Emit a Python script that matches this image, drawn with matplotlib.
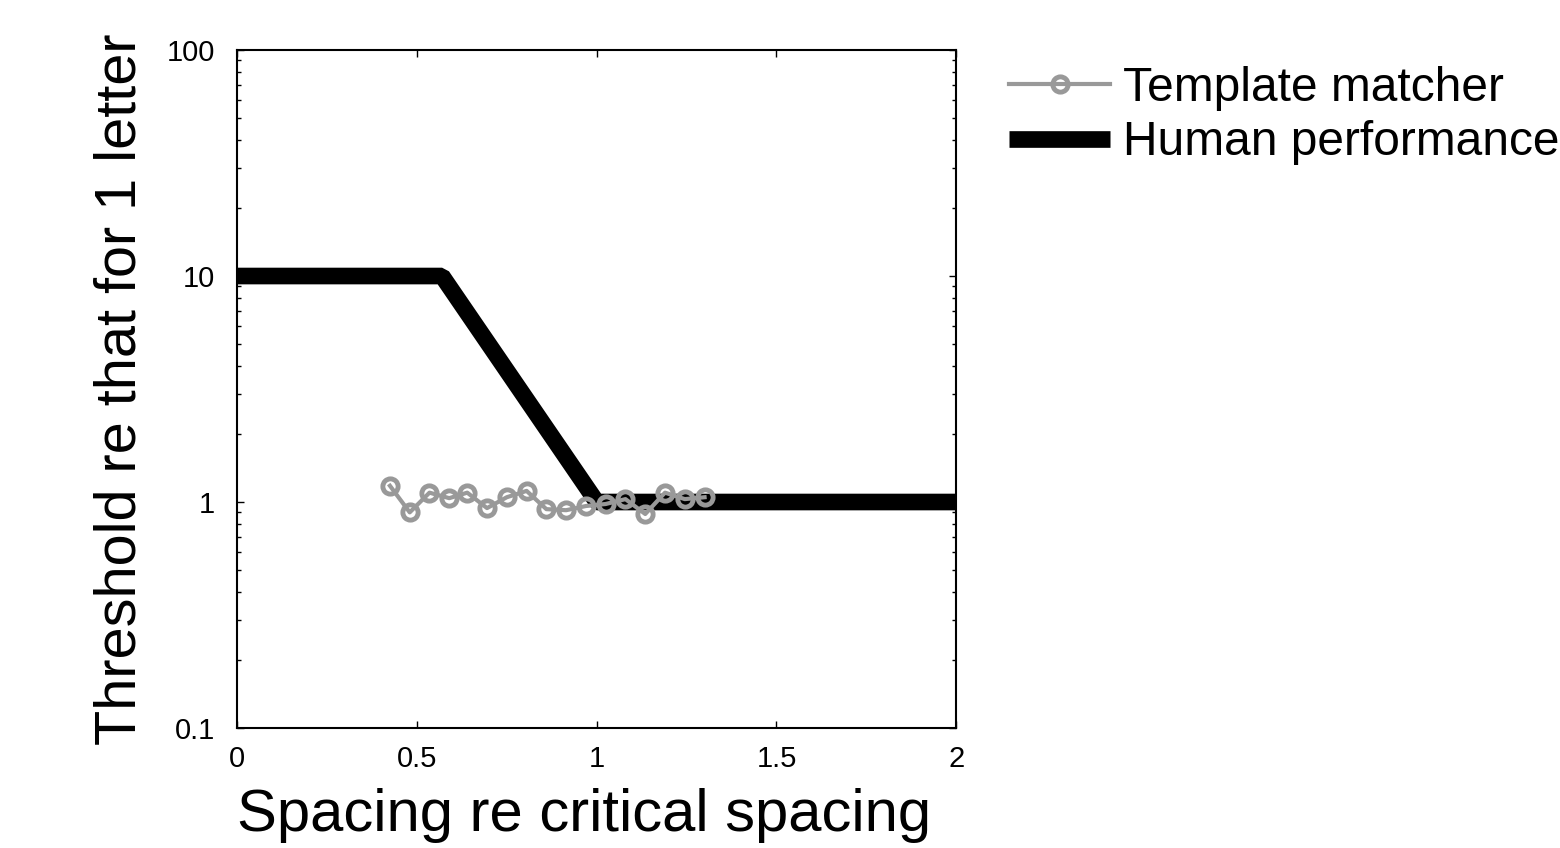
import matplotlib
matplotlib.use("Agg")
import matplotlib.pyplot as plt
from matplotlib.ticker import LogLocator, FixedLocator, NullFormatter

plt.rcParams['font.family'] = ['Liberation Sans', 'DejaVu Sans']

# Template matcher data
tm_x = [0.425, 0.48, 0.535, 0.59, 0.64, 0.695, 0.75, 0.805, 0.86, 0.915,
        0.97, 1.025, 1.08, 1.135, 1.19, 1.245, 1.30]
tm_y = [1.18, 0.90, 1.10, 1.04, 1.10, 0.94, 1.05, 1.12, 0.93, 0.92,
        0.96, 0.98, 1.03, 0.885, 1.10, 1.03, 1.05]

# Human performance (piecewise)
hp_x = [0.0, 0.57, 1.0, 2.0]
hp_y = [10.0, 10.0, 1.0, 1.0]

x_ticks = [0, 0.5, 1, 1.5, 2]
x_ticklabels = ['0', '0.5', '1', '1.5', '2']
y_ticks = [0.1, 1, 10, 100]
y_ticklabels = ['0.1', '1', '10', '100']

fig = plt.figure(figsize=(15.6, 8.48), dpi=100)
ax = fig.add_axes([0.152, 0.1415, 0.461, 0.7995])

ax.plot(tm_x, tm_y, color='#999999', lw=3, marker='o', ms=11,
        mfc='none', mec='#999999', mew=3.5, label='Template matcher', zorder=3)
ax.plot(hp_x, hp_y, color='black', lw=12, solid_joinstyle='bevel',
        solid_capstyle='butt', label='Human performance', zorder=2)

ax.set_yscale('log')
ax.set_xlim(0, 2)
ax.set_ylim(0.1, 100)
ax.xaxis.set_major_locator(FixedLocator(x_ticks))
ax.set_xticklabels(x_ticklabels)
ax.yaxis.set_major_locator(FixedLocator(y_ticks))
ax.set_yticklabels(y_ticklabels)
ax.yaxis.set_minor_locator(LogLocator(base=10, subs=range(2, 10)))
ax.yaxis.set_minor_formatter(NullFormatter())

ax.tick_params(which='both', direction='in', top=True, right=True,
               labelsize=21, width=1)
ax.tick_params(axis='y', pad=16)
ax.tick_params(axis='x', pad=12)
ax.tick_params(which='major', length=5)
ax.tick_params(which='minor', length=3)
for s in ax.spines.values():
    s.set_linewidth(1.5)

ax.set_xlabel('Spacing re critical spacing', fontsize=43)
ax.xaxis.set_label_coords(0.483, -0.088, transform=ax.transAxes)
ax.xaxis.label.set_va('top')
ax.set_ylabel('Threshold re that for 1 letter', fontsize=41.5, labelpad=14)

leg = ax.legend(loc='upper left', bbox_to_anchor=(1.047, 1.005), frameon=False,
                fontsize=34.5, handlelength=2.1, handletextpad=0.27,
                labelspacing=0.2, borderaxespad=0)

fig.savefig('out.png', dpi=100)
